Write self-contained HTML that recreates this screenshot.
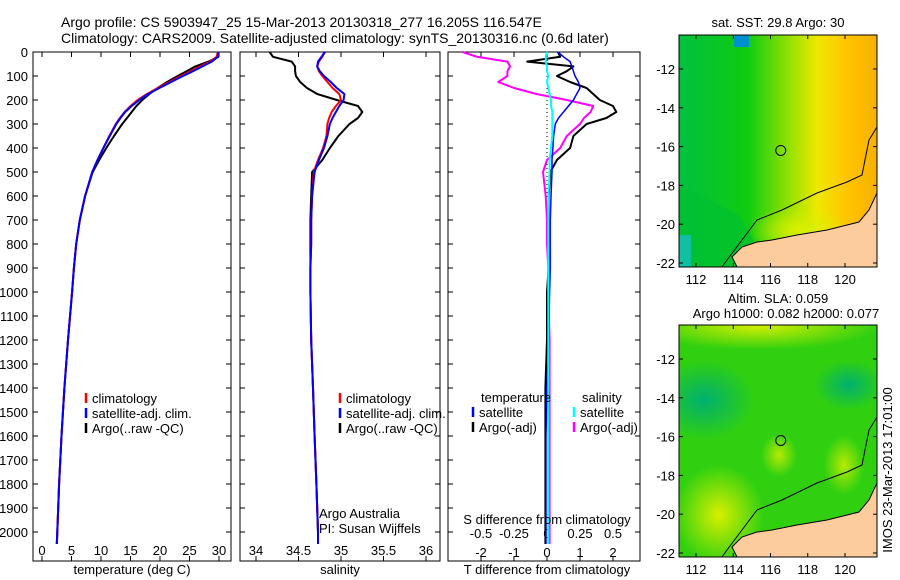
<!DOCTYPE html>
<html><head><meta charset="utf-8"><style>
body{margin:0;background:#fff}
svg{display:block;font-family:"Liberation Sans",sans-serif}
text{font-size:13px;fill:#000}
</style></head><body>
<svg id="fig" width="900" height="580" viewBox="0 0 900 580">
<defs>
<linearGradient id="sstg" x1="0" y1="0" x2="1" y2="0">
<stop offset="0" stop-color="#00c040"/><stop offset="0.35" stop-color="#10cc10"/><stop offset="0.55" stop-color="#90e000"/><stop offset="0.7" stop-color="#f0e800"/><stop offset="0.85" stop-color="#ffc400"/><stop offset="1" stop-color="#f8b000"/>
</linearGradient>
<radialGradient id="slay" cx="0.5" cy="0.5" r="0.5"><stop offset="0" stop-color="#d8f000"/><stop offset="1" stop-color="#d8f000" stop-opacity="0"/></radialGradient>
<radialGradient id="sorg" cx="0.5" cy="0.5" r="0.5"><stop offset="0" stop-color="#c04000"/><stop offset="1" stop-color="#e08000" stop-opacity="0"/></radialGradient>
<radialGradient id="steal" cx="0.5" cy="0.5" r="0.5"><stop offset="0" stop-color="#00b070"/><stop offset="1" stop-color="#00b070" stop-opacity="0"/></radialGradient>
</defs>
<text x="61" y="27" style="font-size:14px">Argo profile: CS 5903947_25 15-Mar-2013 20130318_277 16.205S 116.547E</text>
<text x="61" y="43" style="font-size:14px">Climatology: CARS2009. Satellite-adjusted climatology: synTS_20130316.nc (0.6d later)</text>
<g id="p1"></g>
<g id="p2"></g>
<g id="p3"></g>
<g id="m1"></g>
<g id="m2"></g>
<text transform="translate(892,470) rotate(-90)" text-anchor="middle">IMOS 23-Mar-2013 17:01:00</text>
</svg>
<script>
const depths=[0,20,40,60,80,100,125,150,175,200,225,250,275,300,350,400,450,500,600,700,800,900,1000,1200,1400,1600,1800,2000,2050];
const tempClim=[29.8,29.6,28.5,26.8,25.2,23.5,21.6,19.6,17.8,16.2,15.0,14.0,13.2,12.5,11.4,10.4,9.4,8.5,7.3,6.4,5.8,5.4,5.1,4.4,3.8,3.3,2.9,2.6,2.5];
const tempSat=[29.9,29.8,28.8,27.2,25.6,23.9,21.9,19.9,18.0,16.5,15.2,14.1,13.3,12.6,11.5,10.4,9.4,8.5,7.3,6.4,5.8,5.4,5.1,4.4,3.8,3.3,2.9,2.6,2.5];
const tempArgo=[29.9,29.9,28.2,26.0,24.5,23.0,21.2,19.6,18.2,17.0,16.0,15.2,14.4,13.6,12.2,10.9,9.7,8.6,7.3,6.4,5.8,5.4,5.1,4.4,3.8,3.3,2.9,2.6,2.5];
const salClim=[34.81,34.78,34.74,34.72,34.74,34.78,34.84,34.9,34.98,35.0,34.94,34.89,34.86,34.84,34.83,34.79,34.73,34.68,34.66,34.65,34.65,34.64,34.64,34.65,34.67,34.69,34.71,34.73,34.73];
const salSat=[34.81,34.77,34.73,34.72,34.75,34.8,34.88,34.95,35.04,35.03,34.98,34.94,34.9,34.87,34.84,34.8,34.74,34.69,34.66,34.65,34.65,34.64,34.64,34.65,34.67,34.69,34.71,34.73,34.73];
const salArgo=[34.16,34.2,34.42,34.46,34.46,34.47,34.52,34.6,34.72,34.95,35.2,35.25,35.2,35.1,34.97,34.87,34.78,34.66,34.65,34.64,34.64,34.64,34.64,34.65,34.67,34.69,34.71,34.73,34.73];
const tDiffSat=[0.33,0.5,0.7,0.75,0.8,0.85,0.95,1.0,0.9,0.8,0.65,0.5,0.35,0.25,0.2,0.18,0.15,0.15,0.12,0.1,0.1,0.1,0.08,0.05,0.0,-0.03,-0.03,-0.03,-0.03];
const tDiffArgo=[0.33,0.4,-0.6,0.8,0.6,0.3,0.7,1.2,1.4,1.6,2.0,2.1,1.8,1.2,0.8,0.7,0.3,0.1,0.05,0.05,0.05,0.05,0.0,0.0,-0.05,-0.05,-0.05,-0.05,-0.05];
const sDiffSat=[0,-0.01,-0.01,0,0,0.01,0,0.01,0.02,0.03,0.03,0.04,0.04,0.04,0.04,0.03,0.02,0.02,0.01,0.01,0.01,0.01,0.01,0.01,0.01,0.01,0.01,0.01,0.01];
const sDiffArgo=[-0.64,-0.53,-0.3,-0.28,-0.3,-0.3,-0.37,-0.25,-0.08,0.15,0.35,0.33,0.28,0.25,0.15,0.1,0.0,-0.03,-0.01,0.0,0.0,0.01,0.01,0.02,0.02,0.02,0.02,0.02,0.02];
const depthTicks=[0,100,200,300,400,500,600,700,800,900,1000,1100,1200,1300,1400,1500,1600,1700,1800,1900,2000];
const tempTicks=[0,5,10,15,20,25,30];
const salTicks=[34,34.5,35,35.5,36];
const tdTicks=[-2,-1,0,1,2];
const sdTicks=[-0.5,-0.25,0,0.25,0.5];
const mapLon=[112,114,116,118,120];
const mapLat=[-12,-14,-16,-18,-20,-22];

const NS='http://www.w3.org/2000/svg';
function mk(parent,tag,attrs,txt){const e=document.createElementNS(NS,tag);for(const k in attrs)e.setAttribute(k,attrs[k]);if(txt!==undefined)e.textContent=txt;parent.appendChild(e);return e;}
const Y0=52,Y1=561;
const yD=d=>Y0+0.24*d;
function lin(v0,p0,v1,p1){return v=>p0+(v-v0)*(p1-p0)/(v1-v0);}
const xT=lin(0,42,30,219), xS=lin(34,256,36,426), xTD=lin(0,547,2,613), xSD=lin(0,547,0.5,613);

function frame(g,x0,x1,name){
  const r=mk(g,'rect',{x:x0,y:Y0,width:x1-x0,height:Y1-Y0,fill:'none',stroke:'#000','stroke-width':1});
  
  depthTicks.forEach(d=>{mk(g,'line',{x1:x0,x2:x0+5,y1:yD(d),y2:yD(d),stroke:'#000'});mk(g,'line',{x1:x1-5,x2:x1,y1:yD(d),y2:yD(d),stroke:'#000'});});
}
function xticks(g,vals,f,ylab,fmt,name){
  vals.forEach(v=>{const x=f(v);mk(g,'line',{x1:x,x2:x,y1:Y0,y2:Y0+5,stroke:'#000'});mk(g,'line',{x1:x,x2:x,y1:Y1-5,y2:Y1,stroke:'#000'});
    const t=mk(g,'text',{x:x,y:ylab,'text-anchor':'middle'},fmt(v));});
}
function series(g,vals,f,color,name,w){
  const pts=depths.map((d,i)=>f(vals[i]).toFixed(1)+','+yD(d).toFixed(1)).join(' ');
  const p=mk(g,'polyline',{points:pts,fill:'none',stroke:color,'stroke-width':w||2,'stroke-linejoin':'round'});
  
}
function legend(g,x,y,color,label,name){
  mk(g,'line',{x1:x,x2:x,y1:y-10,y2:y,stroke:color,'stroke-width':2.5});
  const t=mk(g,'text',{x:x+6,y:y},label);
}
// panel 1
const p1=document.getElementById('p1');
frame(p1,33,231,'temperature');
depthTicks.forEach(d=>{const t=mk(p1,'text',{x:28,y:yD(d)+5,'text-anchor':'end'},String(d));});
xticks(p1,tempTicks,xT,555,v=>String(v),'temperature-tick-label');
series(p1,tempArgo,xT,'#000','temp-argo-line');
series(p1,tempClim,xT,'#f00','temp-climatology-line');
series(p1,tempSat,xT,'#00f','temp-satellite-line');
legend(p1,86,403,'#f00','climatology','legend-climatology');
legend(p1,86,418,'#00f','satellite-adj. clim.','legend-satellite');
legend(p1,86,433,'#000','Argo(..raw -QC)','legend-argo');
let t=mk(p1,'text',{x:132,y:574,'text-anchor':'middle'},'temperature (deg C)');
// panel 2
const p2=document.getElementById('p2');
frame(p2,240,440,'salinity');
xticks(p2,salTicks,xS,555,v=>String(v),'salinity-tick-label');
series(p2,salArgo,xS,'#000','sal-argo-line');
series(p2,salClim,xS,'#f00','sal-climatology-line');
series(p2,salSat,xS,'#00f','sal-satellite-line');
legend(p2,340,403,'#f00','climatology','legend-climatology-2');
legend(p2,340,418,'#00f','satellite-adj. clim.','legend-satellite-2');
legend(p2,340,433,'#000','Argo(..raw -QC)','legend-argo-2');
t=mk(p2,'text',{x:340,y:574,'text-anchor':'middle'},'salinity');
t=mk(p2,'text',{x:319,y:518},'Argo Australia');
t=mk(p2,'text',{x:319,y:533},'PI: Susan Wijffels');
// panel 3
const p3=document.getElementById('p3');
frame(p3,448,640,'difference');
xticks(p3,tdTicks,xTD,557,v=>String(v),'t-diff-tick-label');
sdTicks.forEach(v=>{const tt=mk(p3,'text',{x:xSD(v),y:538,'text-anchor':'middle'},String(v));});
mk(p3,'line',{x1:547,x2:547,y1:Y0,y2:200,stroke:'#000','stroke-dasharray':'1,3'});
series(p3,tDiffArgo,xTD,'#000','t-diff-argo-line');
series(p3,sDiffArgo,xSD,'#f0f','s-diff-argo-line');
series(p3,tDiffSat,xTD,'#00f','t-diff-satellite-line',1.5);
series(p3,sDiffSat,xSD,'#0ff','s-diff-satellite-line');
t=mk(p3,'text',{x:481,y:402},'temperature');
t=mk(p3,'text',{x:582,y:402},'salinity');
legend(p3,473,417,'#00f','satellite','legend-t-satellite');
legend(p3,473,432,'#000','Argo(-adj)','legend-t-argo');
legend(p3,574,417,'#0ff','satellite','legend-s-satellite');
legend(p3,574,432,'#f0f','Argo(-adj)','legend-s-argo');
t=mk(p3,'text',{x:547,y:524,'text-anchor':'middle'},'S difference from climatology');
t=mk(p3,'text',{x:547,y:574,'text-anchor':'middle'},'T difference from climatology');

// maps
function map(id,top,kind,title1,title2){
  const g=document.getElementById(id);
  const X0=679,X1=877,T=top,B=top+232;
  const xL=lin(112,696,120,845), yL=lin(-12,T+34,-22,T+228);
  const cp='clip'+id;
  const c=mk(g,'clipPath',{id:cp});mk(c,'rect',{x:X0,y:T,width:X1-X0,height:B-T});
  const gg=mk(g,'g',{'clip-path':'url(#'+cp+')'});
  if(kind==='sst'){
    mk(gg,'rect',{x:X0,y:T,width:X1-X0,height:B-T,fill:'url(#sstg)'});
    mk(gg,'polygon',{points:`${X0},${T+150} ${X0+60},${T+180} ${X0+90},${T+232} ${X0},${T+232}`,fill:'#00c030',opacity:0.7});
    mk(gg,'ellipse',{cx:X0+120,cy:T+195,rx:50,ry:25,fill:'url(#slay)'});
    mk(gg,'ellipse',{cx:X0+155,cy:T+215,rx:40,ry:15,fill:'url(#sorg)'});
    mk(gg,'rect',{x:X0,y:T+200,width:12,height:32,fill:'#10c0a0'});
    mk(gg,'rect',{x:X0+55,y:T,width:15,height:12,fill:'#0090d0'});
  } else {
    mk(gg,'rect',{x:X0,y:T,width:X1-X0,height:B-T,fill:'#30d010'});
    mk(gg,'ellipse',{cx:X0+80,cy:T,rx:120,ry:25,fill:'url(#slay)'});
    mk(gg,'ellipse',{cx:X0+40,cy:T+190,rx:45,ry:50,fill:'url(#slay)'});
    mk(gg,'ellipse',{cx:X0+25,cy:T+75,rx:50,ry:40,fill:'url(#steal)'});
    mk(gg,'ellipse',{cx:X0+170,cy:T+60,rx:35,ry:25,fill:'url(#steal)'});
    mk(gg,'ellipse',{cx:X0+100,cy:T+130,rx:18,ry:22,fill:'url(#slay)',opacity:0.8});
    mk(gg,'ellipse',{cx:X0+165,cy:T+140,rx:20,ry:30,fill:'url(#slay)',opacity:0.8});
  }
  const land=mk(gg,'polygon',{points:`${X1},${T+158} ${X1-8},${T+175} ${X1-18},${T+187} ${X1-50},${T+195} ${X1-80},${T+200} ${X1-105},${T+205} ${X1-120},${T+207} ${X1-135},${T+212} ${X1-145},${T+222} ${X1-140},${T+232} ${X1},${T+232}`,fill:'#fccc9c',stroke:'#000','stroke-width':1});
  
  mk(gg,'polyline',{points:`${X1},${T+92} ${X1-8},${T+105} ${X1-15},${T+140} ${X1-30},${T+147} ${X1-60},${T+158} ${X1-95},${T+175} ${X1-120},${T+185} ${X1-135},${T+205} ${X1-150},${T+225} ${X1-155},${T+232}`,fill:'none',stroke:'#000','stroke-width':1});
  const circ=mk(g,'circle',{cx:xL(116.55),cy:yL(-16.2),r:5,fill:'none',stroke:'#000'});
  
  const fr=mk(g,'rect',{x:X0,y:T,width:X1-X0,height:B-T,fill:'none',stroke:'#000'});
  
  mapLon.forEach(v=>{const x=xL(v);mk(g,'line',{x1:x,x2:x,y1:T,y2:T+4,stroke:'#000'});mk(g,'line',{x1:x,x2:x,y1:B-4,y2:B,stroke:'#000'});
    const tt=mk(g,'text',{x:x,y:B+17,'text-anchor':'middle'},String(v));});
  mapLat.forEach(v=>{const y=yL(v);mk(g,'line',{x1:X0,x2:X0+4,y1:y,y2:y,stroke:'#000'});mk(g,'line',{x1:X1-4,x2:X1,y1:y,y2:y,stroke:'#000'});
    const tt=mk(g,'text',{x:X0-4,y:y+5,'text-anchor':'end'},String(v));});
  let a=mk(g,'text',{x:778,y:top-(title2?22:8),'text-anchor':'middle'},title1);
  if(title2){a=mk(g,'text',{x:786,y:top-7,'text-anchor':'middle'},title2);}
}
map('m1',35,'sst','sat. SST: 29.8 Argo: 30');
map('m2',325,'sla','Altim. SLA: 0.059','Argo h1000: 0.082 h2000: 0.077');
</script>
</body></html>
